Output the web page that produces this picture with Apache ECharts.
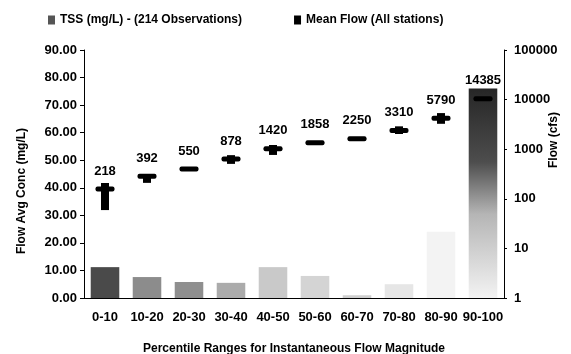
<!DOCTYPE html>
<html>
<head>
<meta charset="utf-8">
<script src="https://cdn.jsdelivr.net/npm/echarts@6/dist/echarts.min.js"></script>
<style>
    html, body { margin: 0; padding: 0; background: #fff; }
    #chart { width: 571px; height: 354px; }
</style>
</head>
<body>
<div id="chart"></div>
<script>
// percentile classes of instantaneous flow
var categories = ['0-10', '10-20', '20-30', '30-40', '40-50', '50-60', '60-70', '70-80', '80-90', '90-100'];
// TSS flow averaged concentration, mg/L (left axis)
var tss = [11.2, 7.6, 5.8, 5.5, 11.2, 8.0, 1.0, 5.0, 24.0, 76.0];
// mean flow, cfs (right log axis) with the range drawn as the thick stem
var meanFlow = [218, 392, 550, 878, 1420, 1858, 2250, 3310, 5790, 14385];
var flowLow = [82, 290, 550, 700, 1060, 1858, 2250, 2800, 4500, 14385];
var flowHigh = [288, 392, 550, 1050, 1680, 1858, 2250, 4000, 7400, 14385];
var leftTicks = [0, 90, 10];

var font = 'Liberation Sans, Arial, sans-serif';
var chart = echarts.init(document.getElementById('chart'));

// scanned stipple looks lighter on the small bars
var shades = ['#4a4a4a', '#8c8c8c', '#8f8f8f', '#ababab', '#c9c9c9', '#d4d4d4', '#cfcfcf', '#e6e6e6', '#f3f3f3', null];
var bars = tss.map(function (v, i) {
    var color = shades[i];
    if (!color) {
        color = new echarts.graphic.LinearGradient(0, 0, 0, 1, [
            {offset: 0, color: '#262626'},
            {offset: 0.35, color: '#4d4d4d'},
            {offset: 0.6, color: '#b5b5b5'},
            {offset: 1, color: '#f3f3f3'}
        ]);
    }
    return {value: v, itemStyle: {color: color}};
});

var flowData = categories.map(function (c, i) {
    return [i, meanFlow[i], flowLow[i], flowHigh[i]];
});

function renderFlow(params, api) {
    var p = api.coord([api.value(0), api.value(1)]);
    var lo = api.coord([api.value(0), api.value(2)]);
    var hi = api.coord([api.value(0), api.value(3)]);
    var shift = 7;
    var children = [];
    if (lo[1] - hi[1] > 1) {
        children.push({
            type: 'rect',
            shape: {x: p[0] - 4, y: hi[1] + shift, width: 8, height: lo[1] - hi[1]},
            style: {fill: '#000'}
        });
    }
    children.push({
        type: 'rect',
        shape: {x: p[0] - 9.5, y: p[1] + shift - 2.5, width: 19, height: 5, r: 2},
        style: {fill: '#000'}
    });
    children.push({
        type: 'text',
        x: p[0],
        y: p[1] - 11,
        style: {
            text: String(api.value(1)),
            fill: '#000',
            font: 'bold 13px ' + font,
            align: 'center',
            verticalAlign: 'middle'
        }
    });
    return {type: 'group', children: children};
}

chart.setOption({
    animation: false,
    textStyle: {fontFamily: font},
    legend: {
        left: 43,
        top: 9,
        itemWidth: 7,
        itemHeight: 9,
        itemGap: 52,
        icon: 'rect',
        textStyle: {color: '#000', fontSize: 12, fontWeight: 'bold', fontFamily: font},
        data: [
            {name: 'TSS (mg/L) - (214 Observations)', itemStyle: {color: '#555'}},
            {name: 'Mean Flow (All stations)', itemStyle: {color: '#000'}}
        ]
    },
    grid: {left: 84, right: 67, top: 50, bottom: 56, outerBoundsMode: 'none'},
    xAxis: {
        type: 'category',
        data: categories,
        name: 'Percentile Ranges for Instantaneous Flow Magnitude',
        nameLocation: 'middle',
        nameGap: 45,
        nameTextStyle: {color: '#000', fontSize: 12, fontWeight: 'bold', fontFamily: font},
        axisLine: {lineStyle: {color: '#000', width: 1}},
        axisTick: {length: 4, lineStyle: {color: '#000'}},
        axisLabel: {color: '#000', fontSize: 13, fontWeight: 'bold', fontFamily: font, margin: 13, interval: 0}
    },
    yAxis: [{
        type: 'value',
        min: leftTicks[0],
        max: leftTicks[1],
        interval: leftTicks[2],
        name: 'Flow Avg Conc (mg/L)',
        nameLocation: 'middle',
        nameRotate: 90,
        nameGap: 56,
        nameMoveOverlap: false,
        nameTextStyle: {color: '#000', fontSize: 12, fontWeight: 'bold', fontFamily: font, padding: [0, 34, 0, 0]},
        axisLine: {show: true, lineStyle: {color: '#000'}},
        axisTick: {show: true, length: 4, lineStyle: {color: '#000'}},
        axisLabel: {
            color: '#000', fontSize: 13, fontWeight: 'bold', fontFamily: font, margin: 7,
            formatter: function (v) { return v.toFixed(2); }
        },
        splitLine: {show: false}
    }, {
        type: 'log',
        logBase: 10,
        min: 1,
        max: 100000,
        position: 'right',
        name: 'Flow (cfs)',
        nameLocation: 'middle',
        nameRotate: 90,
        nameGap: 44,
        nameMoveOverlap: false,
        nameTextStyle: {color: '#000', fontSize: 12, fontWeight: 'bold', fontFamily: font, padding: [0, 0, 0, 68]},
        axisLine: {show: true, lineStyle: {color: '#000'}},
        axisTick: {show: true, length: 3, lineStyle: {color: '#000'}},
        axisLabel: {
            color: '#000', fontSize: 13, fontWeight: 'bold', fontFamily: font, margin: 10,
            formatter: function (v) { return String(Math.round(v)); }
        },
        splitLine: {show: false}
    }],
    series: [{
        name: 'TSS (mg/L) - (214 Observations)',
        type: 'bar',
        barWidth: '68%',
        data: bars
    }, {
        name: 'Mean Flow (All stations)',
        type: 'custom',
        yAxisIndex: 1,
        renderItem: renderFlow,
        encode: {x: 0, y: 1},
        z: 5,
        data: flowData
    }]
});
</script>
</body>
</html>
